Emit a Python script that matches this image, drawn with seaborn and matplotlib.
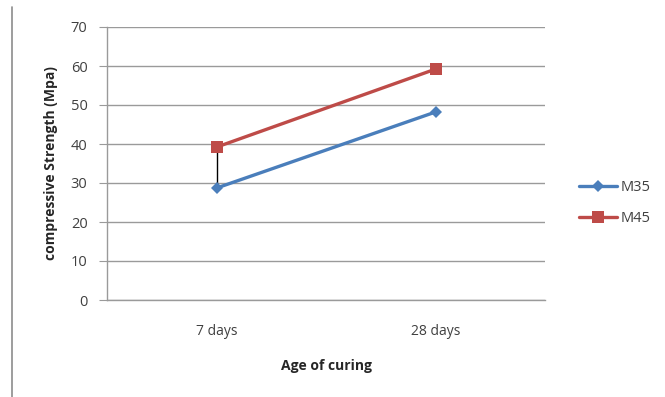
import matplotlib
matplotlib.use("Agg")
import matplotlib.pyplot as plt
import matplotlib.lines as mlines
import pandas as pd
import seaborn as sns

ages = ["7 days", "28 days"]
m35 = [28.7, 48.2]
m45 = [39.2, 59.2]

df = pd.DataFrame({
    "Age": ages * 2,
    "Strength": m35 + m45,
    "Mix": ["M35"] * 2 + ["M45"] * 2,
})

sns.set_style("white")
plt.rcParams["font.family"] = ["Open Sans", "DejaVu Sans"]

fig = plt.figure(figsize=(6.65, 3.97), dpi=100)
fig.patch.set_facecolor("white")
ax = fig.add_axes([107 / 665, 1 - 300 / 397, 438 / 665, 273 / 397])

palette = {"M35": "#4A7EBB", "M45": "#BE4B48"}
markers = {"M35": "D", "M45": "s"}
sizes = {"M35": 6, "M45": 9}

sns.lineplot(data=df, x="Age", y="Strength", hue="Mix", style="Mix",
             palette=palette, markers=markers, dashes=False, linewidth=2.4,
             markersize=7, markeredgewidth=0, legend=False, ax=ax, zorder=3)
# adjust marker sizes per series
for line, mix in zip(ax.get_lines(), ["M35", "M45"]):
    line.set_markersize(sizes[mix])

# black drop line between the two 7-day points
ax.vlines(0, m35[0], m45[0], color="black", linewidth=1.0, zorder=2)

ax.set_xlim(-0.5, 1.5)
ax.set_ylim(0, 70)
ax.set_yticks(range(0, 71, 10))
ax.yaxis.grid(True, color="#9a9a9a", linewidth=1.0)
ax.xaxis.grid(False)
for s in ["top", "right"]:
    ax.spines[s].set_visible(False)
for s in ["left", "bottom"]:
    ax.spines[s].set_color("#9a9a9a")
    ax.spines[s].set_linewidth(1.0)
ax.tick_params(axis="y", which="both", left=True, length=6, color="#9a9a9a",
               labelsize=10.5, labelcolor="#404040", pad=8)
ax.tick_params(axis="x", bottom=False, labelsize=10, labelcolor="#404040", pad=14)

ax.set_xlabel("Age of curing", fontsize=10, fontweight="bold", labelpad=14)
ax.set_ylabel("compressive Strength (Mpa)", fontsize=10, fontweight="bold", labelpad=9)

handles = [
    mlines.Line2D([], [], color=palette["M35"], marker="D", markersize=6,
                  markeredgewidth=0, linewidth=2.4, label="M35"),
    mlines.Line2D([], [], color=palette["M45"], marker="s", markersize=9,
                  markeredgewidth=0, linewidth=2.4, label="M45"),
]
fig.legend(handles=handles, loc="center left", bbox_to_anchor=(566 / 665, 0.488),
           frameon=False, fontsize=10.5, handlelength=2.6, handletextpad=0.25,
           labelspacing=1.1, labelcolor="#404040")

# outer chart border on the left
fig.add_artist(mlines.Line2D([12 / 665, 12 / 665], [0, 1 - 7 / 397],
                             color="#8c8c8c", linewidth=1.2, transform=fig.transFigure))

fig.savefig("out.png", dpi=100, facecolor="white")
